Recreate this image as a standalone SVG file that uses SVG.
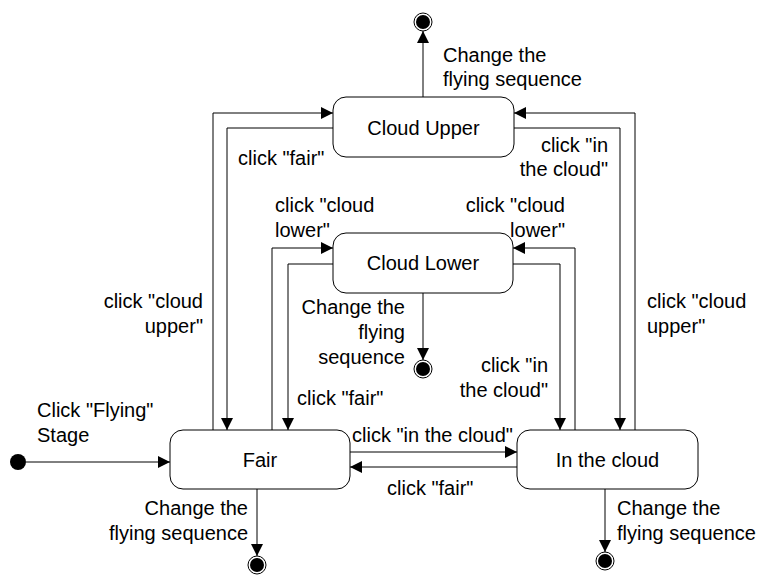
<svg xmlns="http://www.w3.org/2000/svg" width="760" height="579" viewBox="0 0 760 579">
<defs>
<marker id="arr" markerUnits="userSpaceOnUse" markerWidth="13" markerHeight="12" refX="12" refY="6" orient="auto">
<path d="M0,0 L12,6 L0,12 z" fill="#000"/>
</marker>
<style>
.st{fill:#fff;stroke:#000;stroke-width:1}
.c{fill:none;stroke:#000;stroke-width:1}
.t{font-family:"Liberation Sans",Arial,sans-serif;font-size:20px;fill:#000}
.m{text-anchor:middle}
.e{text-anchor:end}
</style>
</defs>
<rect width="760" height="579" fill="#fff"/>
<g id="connectors">
<polyline class="c" points="213,430 213,113 333,113" marker-end="url(#arr)"/>
<polyline class="c" points="333,128 227,128 227,430" marker-end="url(#arr)"/>
<polyline class="c" points="272,430 272,248 333,248" marker-end="url(#arr)"/>
<polyline class="c" points="333,264 288,264 288,430" marker-end="url(#arr)"/>
<polyline class="c" points="513,264 560,264 560,430" marker-end="url(#arr)"/>
<polyline class="c" points="575,430 575,248 513,248" marker-end="url(#arr)"/>
<polyline class="c" points="514,128 620,128 620,430" marker-end="url(#arr)"/>
<polyline class="c" points="635,430 635,113 514,113" marker-end="url(#arr)"/>
<line class="c" x1="350" y1="452" x2="517" y2="452" marker-end="url(#arr)"/>
<line class="c" x1="517" y1="467" x2="350" y2="467" marker-end="url(#arr)"/>
<line class="c" x1="26" y1="462" x2="170" y2="462" marker-end="url(#arr)"/>
<line class="c" x1="423" y1="97" x2="423" y2="31" marker-end="url(#arr)"/>
<line class="c" x1="423" y1="293" x2="423" y2="360" marker-end="url(#arr)"/>
<line class="c" x1="257" y1="489" x2="257" y2="556" marker-end="url(#arr)"/>
<line class="c" x1="605" y1="489" x2="605" y2="552" marker-end="url(#arr)"/>
</g>
<g id="labels">
<text class="t" x="443" y="62">Change the</text>
<text class="t" x="443" y="86">flying sequence</text>
<text class="t" x="238" y="165">click "fair"</text>
<text class="t e" x="608" y="152">click "in</text>
<text class="t e" x="608" y="176">the cloud"</text>
<text class="t" x="275" y="212">click "cloud</text>
<text class="t" x="275" y="237">lower"</text>
<text class="t e" x="565" y="212">click "cloud</text>
<text class="t e" x="565" y="237">lower"</text>
<text class="t e" x="203" y="308">click "cloud</text>
<text class="t e" x="203" y="333">upper"</text>
<text class="t" x="647" y="308">click "cloud</text>
<text class="t" x="647" y="333">upper"</text>
<text class="t e" x="405" y="314">Change the</text>
<text class="t e" x="405" y="339">flying</text>
<text class="t e" x="405" y="364">sequence</text>
<text class="t e" x="548" y="372">click "in</text>
<text class="t e" x="548" y="397">the cloud"</text>
<text class="t" x="297" y="405">click "fair"</text>
<text class="t" x="37" y="417">Click "Flying"</text>
<text class="t" x="37" y="442">Stage</text>
<text class="t" x="352" y="442">click "in the cloud"</text>
<text class="t" x="387" y="495">click "fair"</text>
<text class="t e" x="248" y="515">Change the</text>
<text class="t e" x="248" y="540">flying sequence</text>
<text class="t" x="617" y="515">Change the</text>
<text class="t" x="617" y="540">flying sequence</text>
</g>
<g id="cloud-upper">
<rect class="st" x="333" y="97" width="181" height="60" rx="13"/>
<text class="t m" x="423.5" y="135">Cloud Upper</text>
</g>
<g id="cloud-lower">
<rect class="st" x="333" y="233" width="180" height="60" rx="13"/>
<text class="t m" x="423" y="270">Cloud Lower</text>
</g>
<g id="fair">
<rect class="st" x="170" y="430" width="180" height="59" rx="13"/>
<text class="t m" x="260" y="467">Fair</text>
</g>
<g id="in-the-cloud">
<rect class="st" x="517" y="430" width="181" height="59" rx="13"/>
<text class="t m" x="607.5" y="467">In the cloud</text>
</g>
<g id="initial">
<circle cx="18" cy="462" r="8" fill="#000"/>
</g>
<g id="final-top">
<circle cx="423" cy="22" r="9" fill="#fff" stroke="#000"/>
<circle cx="423" cy="22" r="7" fill="#000"/>
</g>
<g id="final-lower">
<circle cx="423" cy="369" r="9" fill="#fff" stroke="#000"/>
<circle cx="423" cy="369" r="7" fill="#000"/>
</g>
<g id="final-fair">
<circle cx="257" cy="565" r="9" fill="#fff" stroke="#000"/>
<circle cx="257" cy="565" r="7" fill="#000"/>
</g>
<g id="final-cloud">
<circle cx="605" cy="561" r="9" fill="#fff" stroke="#000"/>
<circle cx="605" cy="561" r="7" fill="#000"/>
</g>
</svg>
